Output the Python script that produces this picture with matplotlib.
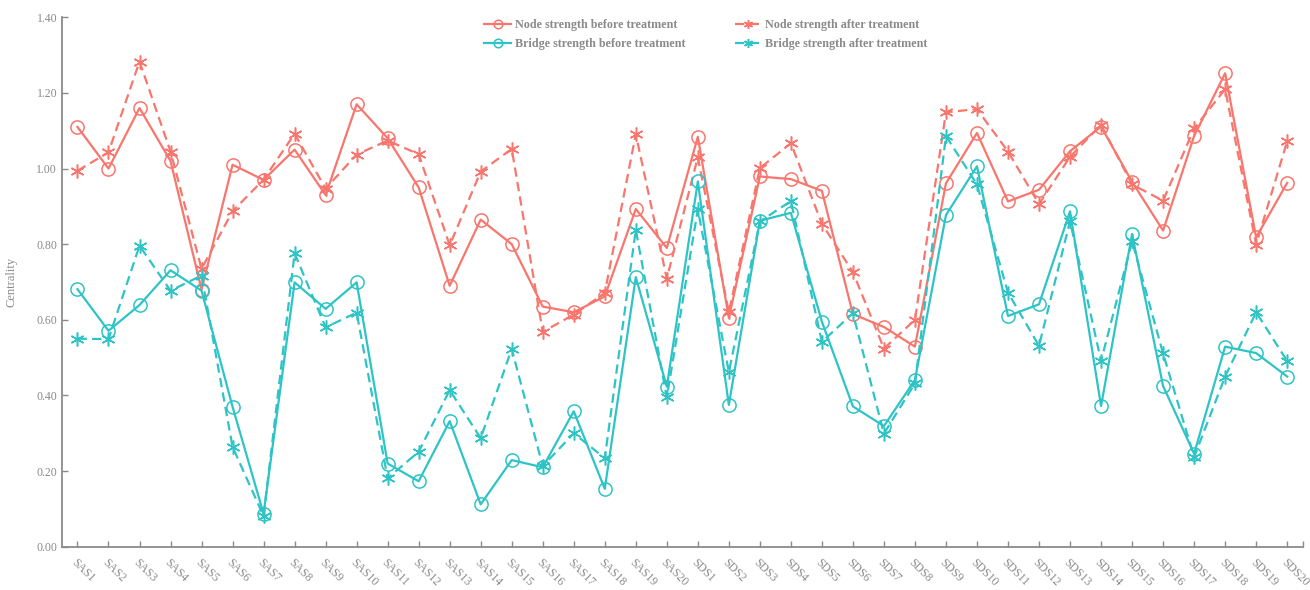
import matplotlib
matplotlib.use("Agg")
import matplotlib.pyplot as plt
import numpy as np

categories = [f"SAS{i}" for i in range(1, 21)] + [f"SDS{i}" for i in range(1, 21)]

node_before = [1.11, 1.00, 1.16, 1.02, 0.68, 1.01, 0.97, 1.05, 0.93, 1.17,
               1.08, 0.95, 0.69, 0.865, 0.80, 0.635, 0.62, 0.662, 0.893, 0.79,
               1.084, 0.605, 0.979, 0.972, 0.941, 0.615, 0.581, 0.529, 0.961, 1.094,
               0.913, 0.944, 1.046, 1.111, 0.965, 0.836, 1.086, 1.252, 0.818, 0.962]

node_after = [0.994, 1.043, 1.283, 1.045, 0.735, 0.887, 0.971, 1.092, 0.947, 1.037,
              1.074, 1.038, 0.797, 0.992, 1.052, 0.568, 0.614, 0.671, 1.091, 0.709,
              1.030, 0.620, 1.001, 1.067, 0.854, 0.726, 0.524, 0.600, 1.149, 1.157,
              1.045, 0.906, 1.031, 1.116, 0.958, 0.915, 1.106, 1.210, 0.799, 1.072]

bridge_before = [0.681, 0.571, 0.639, 0.731, 0.677, 0.370, 0.087, 0.699, 0.629, 0.699,
                 0.220, 0.173, 0.332, 0.112, 0.229, 0.210, 0.358, 0.153, 0.713, 0.423,
                 0.966, 0.375, 0.862, 0.883, 0.595, 0.371, 0.319, 0.441, 0.877, 1.006,
                 0.610, 0.641, 0.887, 0.372, 0.827, 0.425, 0.246, 0.529, 0.512, 0.450]

bridge_after = [0.550, 0.549, 0.796, 0.677, 0.717, 0.264, 0.081, 0.776, 0.580, 0.619,
                0.181, 0.251, 0.414, 0.287, 0.523, 0.213, 0.300, 0.234, 0.838, 0.395,
                0.892, 0.462, 0.860, 0.914, 0.542, 0.617, 0.299, 0.432, 1.086, 0.958,
                0.672, 0.531, 0.861, 0.491, 0.808, 0.511, 0.237, 0.450, 0.620, 0.491]

RED = "#F8766D"
TEAL = "#2EC4C6"
GREY = "#8a8a8a"

plt.rcParams["font.family"] = ["Liberation Serif", "DejaVu Serif"]

fig = plt.figure(figsize=(13.1, 5.9), dpi=100)
ax = fig.add_axes([0.0473, 0.0734, 0.9471, 0.8973])

x = np.arange(len(categories))
star = (6, 2, 0)
lw = 1.6
dash = (4.2, 2.4)

ax.plot(x, node_before, color=RED, lw=lw, marker="o", ms=9.5, mfc="none",
        mew=1.1, label="Node strength before treatment")
ax.plot(x, node_after, color=RED, lw=lw, ls="--", dashes=dash, marker=star, ms=10,
        mew=1.1, label="Node strength after treatment")
ax.plot(x, bridge_before, color=TEAL, lw=lw, marker="o", ms=9.5, mfc="none",
        mew=1.1, label="Bridge strength before treatment")
ax.plot(x, bridge_after, color=TEAL, lw=lw, ls="--", dashes=dash, marker=star, ms=10,
        mew=1.1, label="Bridge strength after treatment")

ax.set_xlim(-0.5, len(categories) - 0.5)
ax.set_ylim(0, 1.4)
ax.set_yticks(np.arange(0, 1.41, 0.2))
ax.set_yticklabels([f"{v:.2f}" for v in np.arange(0, 1.41, 0.2)])
ax.set_xticks(x)
ax.set_xticklabels(categories, rotation=-45, ha="left", va="top",
                   rotation_mode="anchor")
ax.set_xticks([len(categories) - 0.5], minor=True)

for side in ("top", "right"):
    ax.spines[side].set_visible(False)
for side in ("left", "bottom"):
    ax.spines[side].set_color(GREY)
    ax.spines[side].set_linewidth(1.3)

ax.tick_params(axis="both", which="both", direction="in", color=GREY,
               labelcolor=GREY, labelsize=8.5, length=4, width=1)
ax.tick_params(axis="x", pad=7)
ax.set_ylabel("Centrality", color=GREY, fontsize=9)
ax.yaxis.set_label_coords(-0.0355, 0.5)

handles, labels = ax.get_legend_handles_labels()
order = [0, 2, 1, 3]
leg = ax.legend([handles[i] for i in order], [labels[i] for i in order],
                ncol=2, loc="upper center", bbox_to_anchor=(0.519, 1.017),
                frameon=False, handlelength=2.2, handletextpad=0.3,
                columnspacing=4.1, labelspacing=0.6, markerscale=0.65,
                prop={"weight": "bold", "size": 8.7})
for t in leg.get_texts():
    t.set_color(GREY)

fig.savefig("out.png", dpi=100, facecolor="white")
